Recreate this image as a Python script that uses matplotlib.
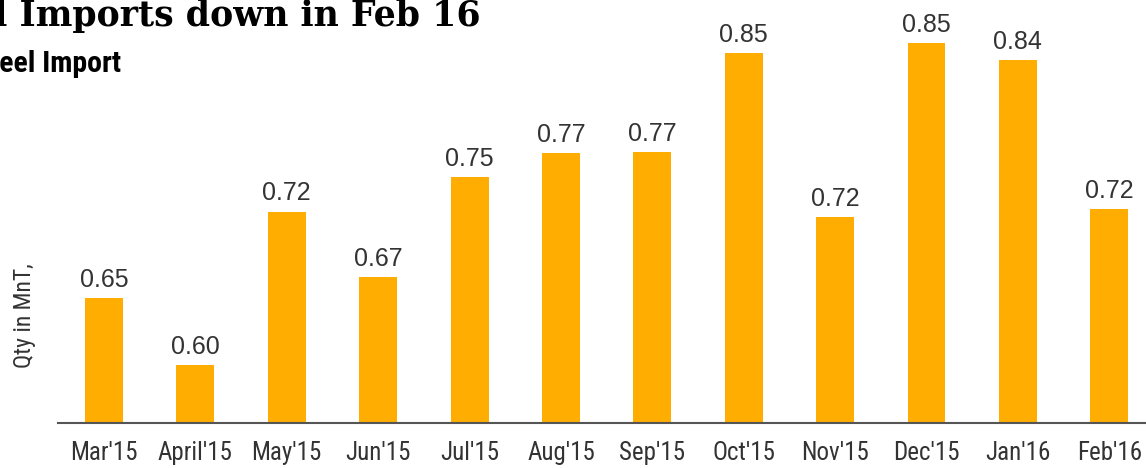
import matplotlib
matplotlib.use("Agg")
import matplotlib.pyplot as plt
from matplotlib import font_manager

# data
months = ["Mar'15", "April'15", "May'15", "Jun'15", "Jul'15", "Aug'15",
          "Sep'15", "Oct'15", "Nov'15", "Dec'15", "Jan'16", "Feb'16"]
qty = [0.653, 0.600, 0.721, 0.669, 0.748, 0.767,
       0.768, 0.846, 0.717, 0.854, 0.841, 0.723]

title = "Steel Imports down in Feb 16"
subtitle = "Steel Import"
ylabel = "Qty in MnT,"

# pick a condensed face if one is there
names = {f.name for f in font_manager.fontManager.ttflist}
cond = next((n for n in ["Roboto Condensed", "Liberation Sans Narrow"] if n in names), None)
tick_font = cond or "Roboto"
tick_size = 18 if cond else 16

W, H = 1146, 468
fig = plt.figure(figsize=(W / 100, H / 100), dpi=100)
ax = fig.add_axes([58.3 / W, 45 / H, 1096.7 / W, 423 / H])

bar_color = "#FFAD00"
text_color = "#333333"

x = range(len(months))
bars = ax.bar(x, qty, width=0.415, color=bar_color)

for b, v in zip(bars, qty):
    ax.annotate(f"{v:.2f}", (b.get_x() + b.get_width() / 2, v),
                xytext=(0, 8), textcoords="offset points",
                ha="center", va="baseline", fontsize=18,
                family="Liberation Sans", color=text_color)

ax.set_xlim(-0.5, len(months) - 0.5)
ax.set_ylim(0.554, 0.554 + 423 / 1266)
ax.set_xticks(list(x))
ax.set_xticklabels(months, family=tick_font, fontsize=tick_size, color=text_color)
ax.tick_params(axis="x", length=0, pad=13)
ax.set_yticks([])
for s in ["top", "left", "right"]:
    ax.spines[s].set_visible(False)
ax.spines["bottom"].set_color("#555555")
ax.spines["bottom"].set_linewidth(1.5)

fig.text(24 / W, 1 - 316 / H, ylabel, rotation=90, ha="center", va="center",
         family=tick_font, fontsize=17, color=text_color)

fig.text(121 / W, 1 - 72 / H, subtitle, ha="right", va="baseline",
         family=cond or "Roboto", fontweight="bold", fontsize=21.5, color="black")

fig.text(481 / W, 1 - 26 / H, title, ha="right", va="baseline",
         family="DejaVu Serif", fontweight="bold", fontsize=25, color="black")

fig.savefig("out.png", dpi=100)
